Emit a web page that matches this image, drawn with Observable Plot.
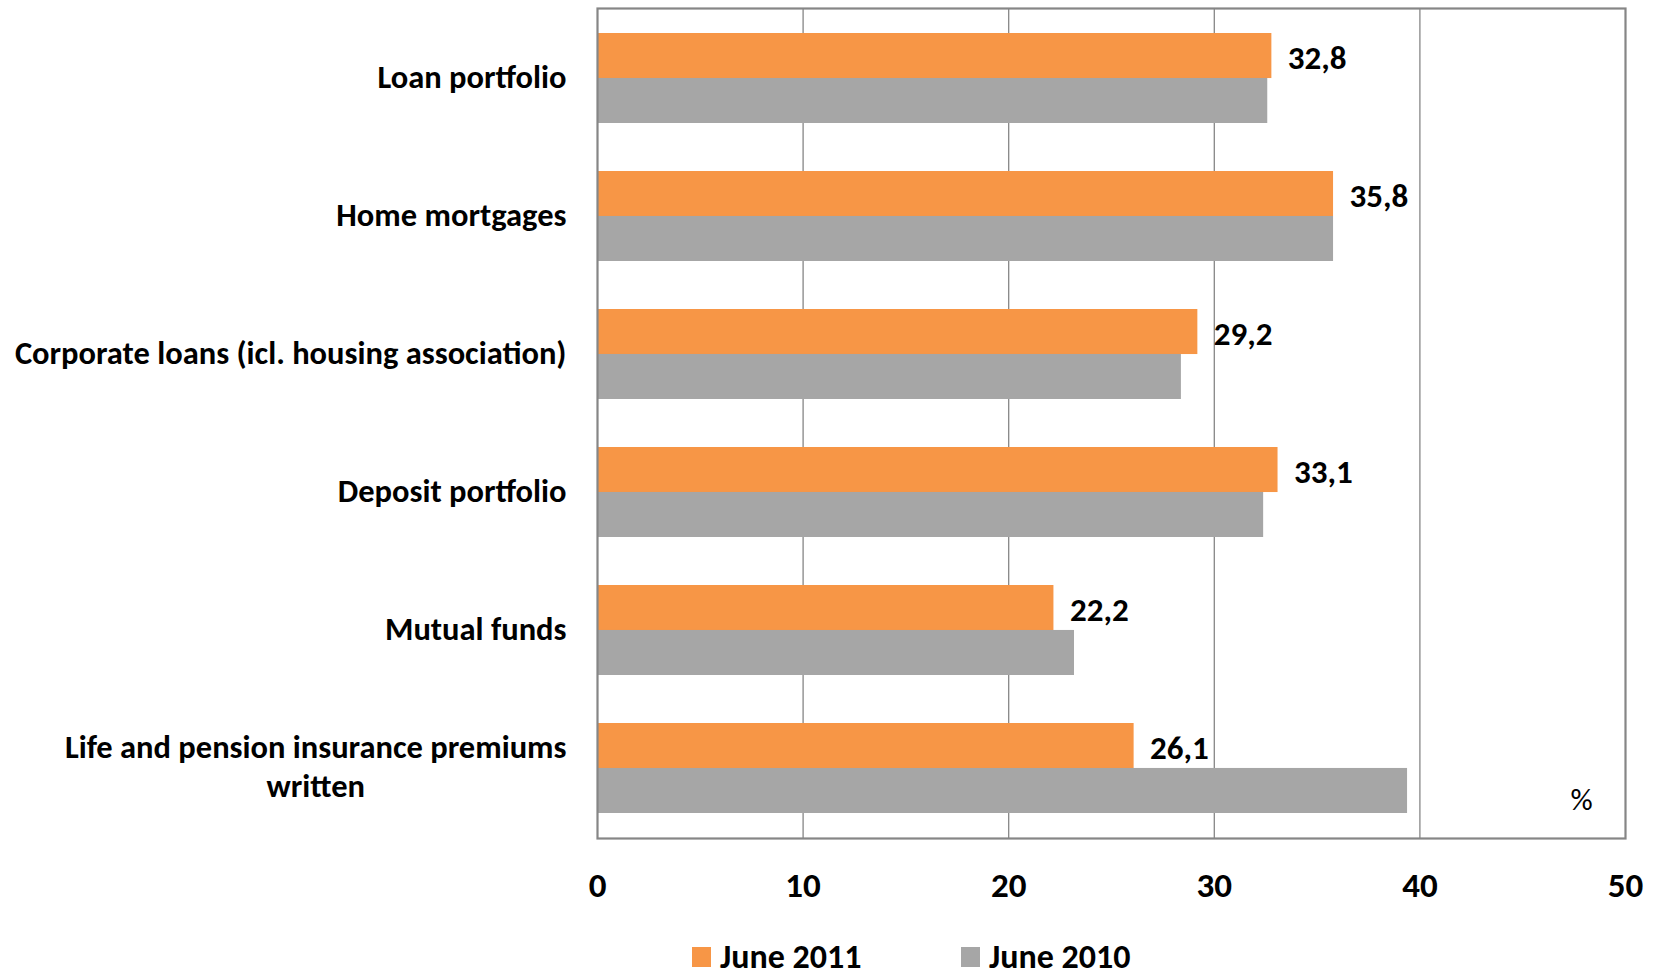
<!DOCTYPE html>
<html>
<head>
<meta charset="utf-8">
<script src="https://cdn.jsdelivr.net/npm/d3@7"></script>
<script src="https://cdn.jsdelivr.net/npm/@observablehq/plot@0.6"></script>
<style>
  html, body { margin: 0; padding: 0; background: #fff; overflow: hidden; }
  body { width: 1657px; height: 976px; position: relative; font-family: Carlito, Calibri, Lato, sans-serif; }
  #legend { position: absolute; left: 0; top: 939px; height: 36px; width: 1657px; }
  .item { position: absolute; top: 0; height: 36px; display: flex; align-items: center; font-weight: bold; font-size: 34px; line-height: 1; color: #000; }
  .sw { width: 19px; height: 20px; margin-right: 9px; }
</style>
</head>
<body>
<div id="chart"></div>
<div id="legend"></div>
<script>
// ---- data ----
const categories = [
  "Loan portfolio",
  "Home mortgages",
  "Corporate loans (icl. housing association)",
  "Deposit portfolio",
  "Mutual funds",
  "Life and pension insurance premiums\nwritten"
];
const june2011 = [32.8, 35.8, 29.2, 33.1, 22.2, 26.1];
const june2010 = [32.6, 35.8, 28.4, 32.4, 23.2, 39.4];
const seriesNames = ["June 2011", "June 2010"];
const xTicks = [0, 10, 20, 30, 40, 50];
const unitLabel = "%";

// ---- layout / style ----
const W = 1657, H = 930;
const mt = 8, mb = 92, ml = 597, mr = 32;
const pInner = 0.35, pOuter = 0.175;
const colors = ["#F79646", "#A6A6A6"];
const gridColor = "#868686";
const font = "Carlito, Calibri, Lato, sans-serif";

const step = (H - mt - mb) / categories.length;
const bw = step * (1 - pInner);
const half = bw / 2;

const rows2011 = categories.map((c, i) => ({category: c, value: june2011[i]}));
const rows2010 = categories.map((c, i) => ({category: c, value: june2010[i]}));
const fmt = v => v.toFixed(1).replace(".", ",");

const plot = Plot.plot({
  width: W,
  height: H,
  marginTop: mt,
  marginBottom: mb,
  marginLeft: ml,
  marginRight: mr,
  style: {fontFamily: font, background: "#fff", overflow: "visible"},
  x: {domain: [0, 50], axis: null},
  y: {domain: categories, axis: null, paddingInner: pInner, paddingOuter: pOuter},
  marks: [
    Plot.ruleX(xTicks.slice(1, -1), {stroke: gridColor, strokeWidth: 1.3}),
    Plot.barX(rows2011, {y: "category", x: "value", fill: colors[0], insetBottom: half}),
    Plot.barX(rows2010, {y: "category", x: "value", fill: colors[1], insetTop: half}),
    Plot.frame({stroke: gridColor, strokeWidth: 2.2}),
    Plot.text(rows2011, {
      y: "category", x: "value", text: d => fmt(d.value),
      dy: -half / 2 + 2, dx: 16, textAnchor: "start", lineAnchor: "middle",
      fontSize: 33, fontWeight: "bold", fill: "#000"
    }),
    Plot.text(categories, {
      y: d => d, frameAnchor: "left", textAnchor: "end", lineAnchor: "middle",
      dx: -31, dy: -3, fontSize: 32.5, fontWeight: "bold", lineHeight: 1.2, fill: "#000"
    }),
    Plot.text(xTicks, {
      x: d => d, frameAnchor: "bottom", textAnchor: "middle", lineAnchor: "top",
      dy: 34, fontSize: 35, fontWeight: "bold", fill: "#000"
    }),
    Plot.text([unitLabel], {
      frameAnchor: "bottom-right", textAnchor: "middle", lineAnchor: "middle",
      dx: -44, dy: -38, fontSize: 31, fill: "#000"
    })
  ]
});

document.getElementById("chart").appendChild(plot);

// center the second line of multi-line category labels under the first line (as in the original)
plot.querySelectorAll("text").forEach(t => {
  const spans = t.querySelectorAll("tspan");
  if (spans.length > 1) {
    const w1 = spans[0].getComputedTextLength();
    const x0 = parseFloat(spans[0].getAttribute("x") || "0");
    for (let k = 1; k < spans.length; k++) {
      spans[k].setAttribute("x", x0 - w1 / 2);
      spans[k].style.textAnchor = "middle";
    }
  }
});

// legend
const legend = document.getElementById("legend");
const lefts = [692, 961];
seriesNames.forEach((name, i) => {
  const item = document.createElement("div");
  item.className = "item";
  item.style.left = lefts[i] + "px";
  const sw = document.createElement("span");
  sw.className = "sw";
  sw.style.background = colors[i];
  const label = document.createElement("span");
  label.textContent = name;
  item.appendChild(sw);
  item.appendChild(label);
  legend.appendChild(item);
});
</script>
</body>
</html>
